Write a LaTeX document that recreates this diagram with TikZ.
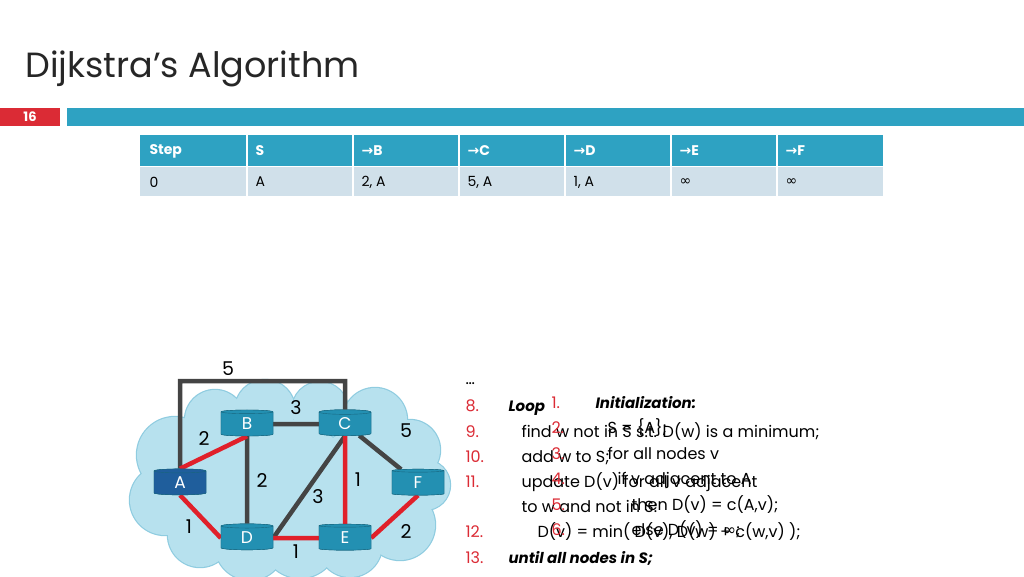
\documentclass[tikz,border=0pt]{standalone}
\usepackage{fontspec}
\setmainfont{Poppins}
\newfontfamily\dvs{DejaVu Sans}
\usetikzlibrary{shapes.geometric}
\definecolor{hdr}{HTML}{2EA2C2}
\definecolor{rowc}{HTML}{D0E0EA}
\definecolor{redc}{HTML}{DB2B35}
\definecolor{cloudc}{HTML}{B7E1EE}
\definecolor{cloude}{HTML}{8FCCE0}
\definecolor{rtc}{HTML}{2390B2}
\definecolor{rta}{HTML}{1F5E9C}
\definecolor{edgeg}{HTML}{444444}
\definecolor{edger}{HTML}{E0202A}
\tikzset{
 router/.style={cylinder, shape border rotate=90, aspect=0.35, minimum width=52pt, minimum height=26pt, fill=rtc, draw=rtc!70!black, text=white, font=\fontsize{17}{17}\selectfont, inner sep=0pt},
 ge/.style={line width=4.5pt, draw=edgeg},
 re/.style={line width=4.5pt, draw=edger},
 wl/.style={font=\fontsize{19}{19}\selectfont},
 hcell/.style={anchor=west, text=white, font=\bfseries\fontsize{14}{14}\selectfont},
 bcell/.style={anchor=west, font=\fontsize{14}{14}\selectfont},
 num/.style={anchor=base west, text=redc, font=\fontsize{16}{16}\selectfont},
 alg/.style={anchor=base west, font=\fontsize{16}{16}\selectfont},
 bi/.style={anchor=base west, font=\bfseries\itshape\fontsize{15}{15}\selectfont},
}
\begin{document}
\begin{tikzpicture}[x=1pt,y=-1pt]
\useasboundingbox (0,0) rectangle (1024,576);
\node[anchor=base west, font=\fontsize{35}{35}\selectfont, text=black!85] (title) at (22,77) {Dijkstra’s Algorithm};
\fill[redc] (0,108) rectangle (60,126);
\node[text=white, font=\bfseries\fontsize{13}{13}\selectfont] (pg) at (30,117) {16};
\fill[hdr] (67,108) rectangle (1024,126);
\fill[hdr] (140,135) rectangle (883,166);
\fill[rowc] (140,167) rectangle (883,196);
\foreach \x in {247,353,459,565,671,777}{\draw[white,line width=1.5pt] (\x,135) -- (\x,196);}
\draw[white,line width=1.5pt] (140,166.5) -- (883,166.5);
\node[hcell] (h1) at (146,151) {Step};
\node[hcell] (h2) at (252,151) {S};
\node[hcell] (h3) at (358,151) {{\dvs→}B};
\node[hcell] (h4) at (464,151) {{\dvs→}C};
\node[hcell] (h5) at (570,151) {{\dvs→}D};
\node[hcell] (h6) at (676,151) {{\dvs→}E};
\node[hcell] (h7) at (782,151) {{\dvs→}F};
\node[bcell] (r1) at (146,182) {0};
\node[bcell] (r2) at (252,182) {A};
\node[bcell] (r3) at (358,182) {2, A};
\node[bcell] (r4) at (464,182) {5, A};
\node[bcell] (r5) at (570,182) {1, A};
\node[bcell] (r6) at (676,182) {{\dvs ∞}};
\node[bcell] (r7) at (782,182) {{\dvs ∞}};
\foreach \cx/\cy/\r in {175/455/38,165/500/35,200/535/32,250/545/35,300/540/38,350/545/32,400/525/35,425/485/25,410/450/30,375/420/32,320/410/28,265/410/30,215/420/30,290/480/60,220/480/50,360/480/50}
 {\fill[cloude] (\cx,\cy) circle ({\r+1.2});}
\foreach \cx/\cy/\r in {175/455/38,165/500/35,200/535/32,250/545/35,300/540/38,350/545/32,400/525/35,425/485/25,410/450/30,375/420/32,320/410/28,265/410/30,215/420/30,290/480/60,220/480/50,360/480/50}
 {\fill[cloudc] (\cx,\cy) circle (\r);}
\node[router, fill=rta] (A) at (180,483) {A};
\node[router] (B) at (247,424) {B};
\node[router] (C) at (345,424) {C};
\node[router] (F) at (418,483) {F};
\node[router] (D) at (247,538) {D};
\node[router] (E) at (345,538) {E};
\coordinate (p1) at (180,381);
\coordinate (p2) at (345,381);
\draw[ge] (A.north) -- (p1) -- (p2) -- (C.north);
\draw[ge] (B) -- (C);
\draw[ge] (B) -- (D);
\draw[ge] (D.east) -- (C.south);
\draw[ge] (C) -- (F);
\draw[re] (A.north) -- (B.south);
\draw[re] (A.south) -- (D.west);
\draw[re] (C) -- (E);
\draw[re] (D) -- (E);
\draw[re] (E.east) -- (F.south);
\node[router, fill=rta] (A2) at (180,483) {A};
\node[router] (B2) at (247,424) {B};
\node[router] (C2) at (345,424) {C};
\node[router] (F2) at (418,483) {F};
\node[router] (D2) at (247,538) {D};
\node[router] (E2) at (345,538) {E};
\node[wl] (l1) at (228,369) {5};
\node[wl] (l2) at (296,408) {3};
\node[wl] (l3) at (204,438) {2};
\node[wl] (l4) at (262,480) {2};
\node[wl] (l5) at (318,497) {3};
\node[wl] (l6) at (358,480) {1};
\node[wl] (l7) at (406,431) {5};
\node[wl] (l8) at (189,527) {1};
\node[wl] (l9) at (296,552) {1};
\node[wl] (l10) at (406,531) {2};
\node[alg] (dots) at (462,384) {…};
\node[num] (n8) at (462,411) {8.};
\node[num] (n9) at (462,437) {9.};
\node[num] (n10) at (462,462) {10.};
\node[num] (n11) at (462,487) {11.};
\node[num] (n12) at (462,537) {12.};
\node[num] (n13) at (462,563) {13.};
\node[bi] (t8) at (505,411) {Loop};
\node[alg] (t9) at (518,437) {find w not in S s.t. D(w) is a minimum;};
\node[alg] (t10) at (518,462) {add w to S;};
\node[alg] (t11) at (518,487) {update D(v) for all v adjacent};
\node[alg] (t11b) at (518,512) {to w and not in S:};
\node[alg] (t12) at (534,537) {D(v) = min( D(v), D(w) + c(w,v) );};
\node[bi] (t13) at (505,563) {until all nodes in S;};
\node[num] (m1) at (548,408) {1.};
\node[num] (m2) at (548,433) {2.};
\node[num] (m3) at (548,459) {3.};
\node[num] (m4) at (548,484) {4.};
\node[num] (m5) at (548,510) {5.};
\node[num] (m6) at (548,535) {6.};
\node[bi] (s1) at (592,408) {Initialization:};
\node[alg] (s2) at (604,433) {S = \{A\};};
\node[alg] (s3) at (604,459) {for all nodes v};
\node[alg] (s4) at (614,484) {if v adjacent to A};
\node[alg] (s5) at (628,510) {then D(v) = c(A,v);};
\node[alg] (s6) at (628,535) {else D(v) = {\dvs ∞};};
\end{tikzpicture}
\end{document}
